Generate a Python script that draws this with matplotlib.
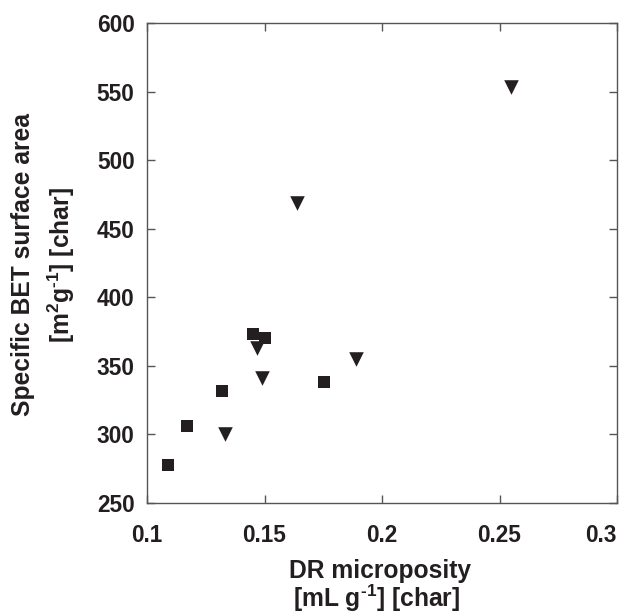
import matplotlib
matplotlib.use('Agg')
import matplotlib.pyplot as plt

# data
sq_x = [0.109, 0.117, 0.132, 0.1452, 0.1503, 0.1752]
sq_y = [278, 306, 332, 373, 370, 338]
tri_x = [0.133, 0.1469, 0.1491, 0.1637, 0.1889, 0.2551]
tri_y = [300, 363, 341.5, 469, 355, 553]

x_ticks = [0.1, 0.15, 0.2, 0.25, 0.3]
x_tick_labels = ['0.1', '0.15', '0.2', '0.25', '0.3']
y_ticks = [250, 300, 350, 400, 450, 500, 550, 600]

ink = '#231f20'
plt.rcParams['font.family'] = ['Liberation Sans', 'DejaVu Sans']
plt.rcParams['font.weight'] = 'bold'
plt.rcParams['mathtext.fontset'] = 'custom'
plt.rcParams['mathtext.rm'] = 'Liberation Sans:bold'
plt.rcParams['mathtext.bf'] = 'Liberation Sans:bold'

fig = plt.figure(figsize=(6.31, 6.16), dpi=100)
ax = fig.add_axes([147/631, 113/616, 470/631, 480/616])

ax.scatter(sq_x, sq_y, marker='s', s=72, color=ink, linewidths=0, zorder=3)
ax.scatter(tri_x, tri_y, marker='v', s=110, color=ink, linewidths=0, zorder=3)

ax.set_xlim(0.1, 0.3)
ax.set_ylim(250, 600)
ax.set_xticks(x_ticks)
ax.set_xticklabels(x_tick_labels)
ax.set_yticks(y_ticks)
ax.tick_params(direction='in', length=6, width=1, color='#555555',
               top=True, right=True, labelsize=16.3, labelcolor=ink)
ax.tick_params(axis='x', pad=15)
ax.tick_params(axis='y', pad=9)
# last x label sits left of its tick in the original so it stays inside
ax.get_xticklabels()[-1].set_horizontalalignment('right')
for s in ax.spines.values():
    s.set_color('#555555')
    s.set_linewidth(1)

fig.text(380/631, 1 - 578/616, 'DR microposity', ha='center', va='baseline',
         fontsize=17.7, color=ink, fontweight='bold')
fig.text(377/631, 1 - 607/616, r'[mL g$^{\text{-1}}$] [char]', ha='center', va='baseline',
         fontsize=17.7, color=ink, fontweight='bold')
fig.text(23/631, 1 - 265/616, 'Specific BET surface area', ha='center', va='center',
         rotation=90, fontsize=17.7, color=ink, fontweight='bold')
fig.text(61/631, 1 - 265/616, r'[m$^{2}$g$^{\text{-1}}$] [char]', ha='center', va='center',
         rotation=90, fontsize=17.7, color=ink, fontweight='bold')

fig.savefig('out.png', dpi=100)
